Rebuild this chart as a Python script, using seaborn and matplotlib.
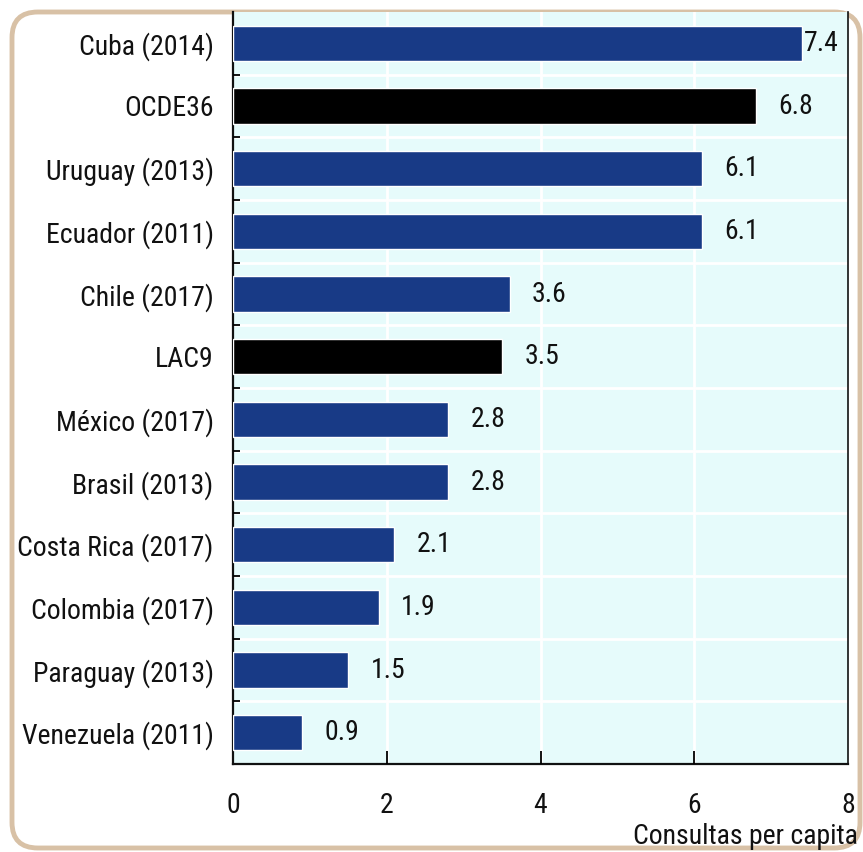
import matplotlib
matplotlib.use("Agg")
import matplotlib.pyplot as plt
from matplotlib.patches import FancyBboxPatch
import seaborn as sns
import pandas as pd

countries = ["Cuba (2014)", "OCDE36", "Uruguay (2013)", "Ecuador (2011)",
             "Chile (2017)", "LAC9", "México (2017)", "Brasil (2013)",
             "Costa Rica (2017)", "Colombia (2017)", "Paraguay (2013)",
             "Venezuela (2011)"]
consultas = [7.4, 6.8, 6.1, 6.1, 3.6, 3.5, 2.8, 2.8, 2.1, 1.9, 1.5, 0.9]
aggregates = ["OCDE36", "LAC9"]
x_ticks = [0, 2, 4, 6, 8]
x_label = "Consultas per capita"

NAVY = "#183a86"
BLACK = "#000000"
BG = "#e6fbfb"
BORDER = "#d8c1a6"
TXT = "#111111"
FS = 20

sns.set_theme(style="white")
plt.rcParams["font.family"] = ["Roboto Condensed", "Archivo Narrow", "DejaVu Sans"]

df = pd.DataFrame({"pais": countries, "valor": consultas})
palette = {c: (BLACK if c in aggregates else NAVY) for c in countries}

fig = plt.figure(figsize=(8.63, 8.52), dpi=100)
fig.patch.set_facecolor("white")

# rounded frame around the whole figure
frame = FancyBboxPatch((12 / 863, 4 / 852), 848 / 863, 836 / 852,
                       boxstyle="round,pad=0,rounding_size=0.03",
                       transform=fig.transFigure, facecolor="none",
                       edgecolor=BORDER, linewidth=3.5, zorder=0)
fig.add_artist(frame)

ax = fig.add_axes([233 / 863, 1 - 764 / 852, 615 / 863, 752 / 852])
ax.set_facecolor(BG)

sns.barplot(data=df, x="valor", y="pais", hue="pais", palette=palette,
            order=countries, hue_order=countries, width=0.56,
            legend=False, ax=ax, zorder=3, saturation=1)

ax.set_xlim(0, 8)
ax.set_ylim(len(countries) - 0.5, -0.5)
ax.set_xticks(x_ticks)
ax.set_xticklabels([str(t) for t in x_ticks])
ax.set_yticks(range(len(countries)))
ax.set_yticklabels(countries)
ax.set_xlabel("")
ax.set_ylabel("")

# white grid: vertical at x ticks, horizontal between categories
for t in x_ticks[1:-1]:
    ax.axvline(t, color="white", lw=2, zorder=1)
for b in range(len(countries) - 1):
    ax.axhline(b + 0.5, color="white", lw=2, zorder=1)

# inward tick marks between categories and at interior x ticks
for b in range(len(countries) - 1):
    ax.plot([0, 0.09], [b + 0.5, b + 0.5], color="black", lw=1.3,
            zorder=4, clip_on=False, solid_capstyle="butt")
ylow = len(countries) - 0.5
for t in x_ticks[1:-1]:
    ax.plot([t, t], [ylow, ylow - 0.2], color="black", lw=1.3,
            zorder=4, solid_capstyle="butt")

ax.tick_params(axis="both", length=0, labelsize=FS, colors=TXT)
ax.tick_params(axis="y", pad=14)
ax.tick_params(axis="x", pad=20)

for side in ["left", "bottom", "right"]:
    ax.spines[side].set_visible(True)
    ax.spines[side].set_color(TXT)
    ax.spines[side].set_linewidth(1.6)
ax.spines["top"].set_visible(False)
ax.spines["right"].set_linewidth(1.2)

# value labels; the longest bar gets its label tucked right against it
for i, v in enumerate(consultas):
    off = 0.03 if v + 0.8 > 8 else 0.29
    ax.text(v + off, i, f"{v:.1f}", va="center", ha="left",
            fontsize=FS, color=TXT, zorder=5)

fig.text(858 / 863, 1 - 836 / 852, x_label, ha="right", va="center",
         fontsize=FS, color=TXT)

fig.savefig("out.png", dpi=100, facecolor="white")
